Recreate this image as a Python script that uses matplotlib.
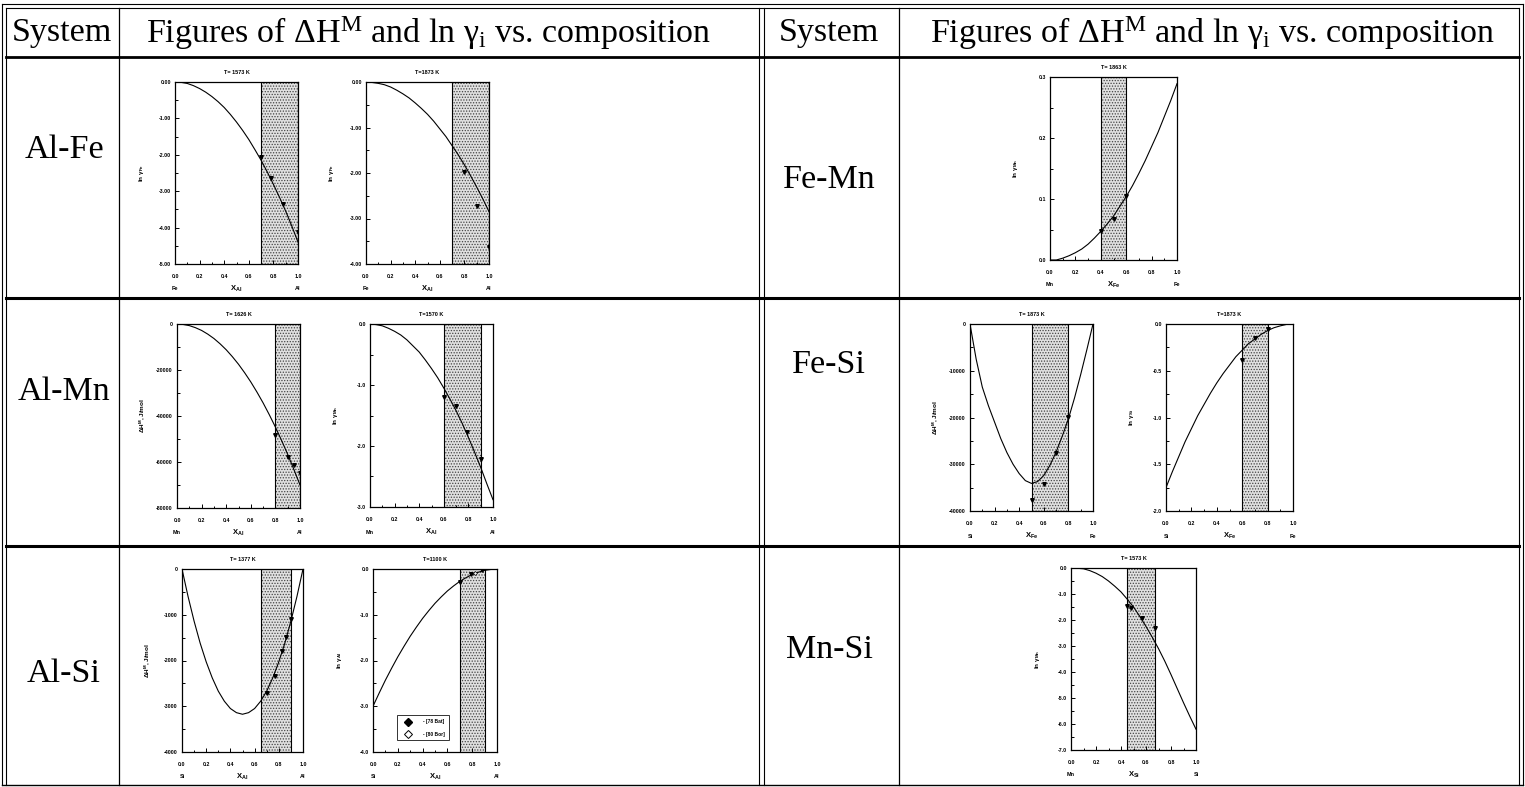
import matplotlib.pyplot as plt
from matplotlib.lines import Line2D
from matplotlib.ticker import MultipleLocator, FormatStrFormatter

W, H = 1525, 787

plt.rcParams['mathtext.fontset'] = 'custom'
plt.rcParams['mathtext.rm'] = 'Liberation Serif'
plt.rcParams['mathtext.it'] = 'Liberation Serif:italic'
plt.rcParams['mathtext.sf'] = 'Liberation Sans:bold'
plt.rcParams['hatch.linewidth'] = 0.6

# table text
header_system = "System"
header_figs = r"Figures of $\Delta$H$^{\mathrm{M}}$ and ln $\mathrm{\gamma}_{\mathrm{i}}$ vs. composition"
systems_left = ["Al-Fe", "Al-Mn", "Al-Si"]
systems_right = ["Fe-Mn", "Fe-Si", "Mn-Si"]

# composition grid for the model curves (read every 0.05)
x_grid = [0.0, 0.05, 0.1, 0.15, 0.2, 0.25, 0.3, 0.35, 0.4, 0.45, 0.5,
          0.55, 0.6, 0.65, 0.7, 0.75, 0.8, 0.85, 0.9, 0.95, 1.0]

# Al-Fe, T=1573 K, ln gamma_Fe
alfe1573_curve = [0, -0.01, -0.04, -0.10, -0.18, -0.28, -0.40, -0.54, -0.70, -0.89, -1.10,
                  -1.33, -1.58, -1.86, -2.15, -2.47, -2.81, -3.17, -3.55, -3.96, -4.40]
alfe1573_px = [0.70, 0.78, 0.88, 1.00]
alfe1573_py = [-2.06, -2.64, -3.35, -4.12]

# Al-Fe, T=1873 K, ln gamma_Fe
alfe1873_curve = [0, -0.01, -0.03, -0.06, -0.11, -0.18, -0.26, -0.35, -0.46, -0.58, -0.71,
                  -0.86, -1.03, -1.20, -1.40, -1.60, -1.82, -2.06, -2.31, -2.57, -2.85]
alfe1873_px = [0.80, 0.90, 1.00]
alfe1873_py = [-1.98, -2.72, -3.62]

# Al-Mn, T=1626 K, dH^M
almn1626_curve = [0, -200, -700, -1600, -2800, -4400, -6300, -8600, -11200, -14200, -17500,
                  -21200, -25200, -29600, -34300, -39400, -44800, -50600, -56700, -63200, -70000]
almn1626_px = [0.80, 0.90, 0.95, 1.00]
almn1626_py = [-48400, -58000, -61400, -64800]

# Al-Mn, T=1570 K, ln gamma_Mn
almn1570_curve = [0, -0.01, -0.03, -0.07, -0.12, -0.18, -0.26, -0.36, -0.46, -0.59, -0.73,
                  -0.88, -1.05, -1.23, -1.42, -1.63, -1.86, -2.10, -2.35, -2.62, -2.88]
almn1570_px = [0.60, 0.70, 0.79, 0.90]
almn1570_py = [-1.19, -1.35, -1.77, -2.22]

# Al-Si, T=1377 K, dH^M
alsi1377_curve = [0, -600, -1140, -1620, -2030, -2380, -2670, -2890, -3050, -3140, -3175,
                  -3140, -3050, -2890, -2670, -2380, -2030, -1620, -1140, -600, 0]
alsi1377_px = [0.70, 0.77, 0.83, 0.86, 0.90]
alsi1377_py = [-2710, -2330, -1790, -1490, -1090]

# Al-Si, T=1100 K, ln gamma_Al
alsi1100_curve = [-3.0, -2.71, -2.43, -2.17, -1.92, -1.69, -1.47, -1.27, -1.08, -0.91, -0.75,
                  -0.61, -0.48, -0.37, -0.27, -0.19, -0.12, -0.07, -0.03, -0.01, 0]
alsi1100_px = [0.70, 0.79, 0.88]
alsi1100_py = [-0.29, -0.12, -0.03]
alsi1100_open_x = [0.82]
alsi1100_open_y = [-0.09]
alsi1100_legend = ["- [78 Bat]", "- [80 Bor]"]

# Fe-Mn, T=1863 K, ln gamma_Mn
femn1863_curve = [0, 0.0, 0.003, 0.007, 0.012, 0.018, 0.026, 0.036, 0.047, 0.059, 0.072,
                  0.088, 0.104, 0.122, 0.142, 0.163, 0.186, 0.209, 0.235, 0.261, 0.289]
femn1863_px = [0.40, 0.50, 0.60]
femn1863_py = [0.048, 0.068, 0.105]

# Fe-Si, T=1873 K, dH^M
fesi1873h_curve = [0, -7500, -13500, -17500, -21000, -24500, -27500, -30000, -32000, -33500, -34100,
                   -33700, -32400, -30200, -27400, -24000, -20300, -15800, -10800, -5500, 0]
fesi1873h_px = [0.50, 0.60, 0.70, 0.80]
fesi1873h_py = [-37700, -34300, -27500, -19800]

# Fe-Si, T=1873 K, ln gamma_Si
fesi1873g_curve = [-1.75, -1.58, -1.42, -1.26, -1.12, -0.98, -0.86, -0.74, -0.63, -0.53, -0.44,
                   -0.35, -0.28, -0.21, -0.16, -0.11, -0.07, -0.04, -0.02, -0.004, 0]
fesi1873g_px = [0.60, 0.70, 0.80]
fesi1873g_py = [-0.38, -0.15, -0.05]

# Mn-Si, T=1573 K, ln gamma_Mn
mnsi1573_curve = [0, -0.01, -0.03, -0.10, -0.20, -0.33, -0.50, -0.70, -0.92, -1.20, -1.50,
                  -1.86, -2.25, -2.66, -3.10, -3.58, -4.10, -4.64, -5.18, -5.70, -6.20]
mnsi1573_px = [0.45, 0.48, 0.57, 0.67]
mnsi1573_py = [-1.46, -1.53, -1.94, -2.32]

lng = r"ln $\mathsf{\gamma_{%s}}$"
dhm = r"$\mathsf{\Delta H^{M}}$, J/mol"

panels = [
    # rect px (l, t, r, b), title, curve, points, shade, ylim, major, minor, fmt, ylabel, elements
    ((175, 82, 298, 264), "T= 1573 K", alfe1573_curve, alfe1573_px, alfe1573_py, (0.7, 1.0),
     (-5, 0), 1, 0.5, '%.2f', lng % 'Fe', ("Fe", "Al", "Al")),
    ((366, 82, 489, 264), "T=1873 K", alfe1873_curve, alfe1873_px, alfe1873_py, (0.7, 1.0),
     (-4, 0), 1, 0.5, '%.2f', lng % 'Fe', ("Fe", "Al", "Al")),
    ((177, 324, 300, 508), "T= 1626 K", almn1626_curve, almn1626_px, almn1626_py, (0.8, 1.0),
     (-80000, 0), 20000, 10000, '%d', dhm, ("Mn", "Al", "Al")),
    ((370, 324, 493, 507), "T=1570 K", almn1570_curve, almn1570_px, almn1570_py, (0.6, 0.9),
     (-3, 0), 1, 0.5, '%.1f', lng % 'Mn', ("Mn", "Al", "Al")),
    ((182, 569, 303, 752), "T= 1377 K", alsi1377_curve, alsi1377_px, alsi1377_py, (0.65, 0.9),
     (-4000, 0), 1000, 500, '%d', dhm, ("Si", "Al", "Al")),
    ((373, 569, 497, 752), "T=1100 K", alsi1100_curve, alsi1100_px, alsi1100_py, (0.7, 0.9),
     (-4, 0), 1, 0.5, '%.1f', lng % 'Al', ("Si", "Al", "Al")),
    ((1050, 77, 1177, 260), "T= 1863 K", femn1863_curve, femn1863_px, femn1863_py, (0.4, 0.6),
     (0, 0.3), 0.1, 0.05, '%.1f', lng % 'Mn', ("Mn", "Fe", "Fe")),
    ((970, 324, 1093, 511), "T= 1873 K", fesi1873h_curve, fesi1873h_px, fesi1873h_py, (0.5, 0.8),
     (-40000, 0), 10000, 5000, '%d', dhm, ("Si", "Fe", "Fe")),
    ((1166, 324, 1293, 511), "T=1873 K", fesi1873g_curve, fesi1873g_px, fesi1873g_py, (0.6, 0.8),
     (-2, 0), 0.5, 0.25, '%.1f', lng % 'Si', ("Si", "Fe", "Fe")),
    ((1071, 568, 1196, 750), "T= 1573 K", mnsi1573_curve, mnsi1573_px, mnsi1573_py, (0.45, 0.67),
     (-7, 0), 1, 0.5, '%.1f', lng % 'Mn', ("Mn", "Si", "Si")),
]

fig = plt.figure(figsize=(W / 100, H / 100), dpi=100)
fig.patch.set_facecolor('white')


def hline(y, x0, x1, lw):
    fig.add_artist(Line2D([x0 / W, x1 / W], [1 - y / H, 1 - y / H], color='black', lw=lw))


def vline(x, y0, y1, lw):
    fig.add_artist(Line2D([x / W, x / W], [1 - y0 / H, 1 - y1 / H], color='black', lw=lw))


# table frame
hline(4, 2, 1523, 0.8)
hline(8, 6, 1519, 0.8)
hline(57, 6, 1519, 2.0)
hline(298, 6, 1519, 2.2)
hline(546, 6, 1519, 2.2)
hline(785, 2, 1523, 1.0)
vline(2, 4, 785, 0.8)
vline(6, 8, 785, 0.8)
vline(1519, 8, 785, 0.8)
vline(1523, 4, 785, 0.8)
vline(759, 8, 785, 0.8)
vline(764, 8, 785, 0.8)
vline(119, 8, 785, 0.9)
vline(899, 8, 785, 0.9)

serif = dict(family='Liberation Serif', fontsize=24.5, ha='center', va='center')
fig.text(62 / W, 1 - 33 / H, header_system, **serif)
fig.text(428 / W, 1 - 33 / H, header_figs, **serif)
fig.text(829 / W, 1 - 33 / H, header_system, **serif)
fig.text(1212 / W, 1 - 33 / H, header_figs, **serif)

left_rows_y = [150, 392, 674]
right_rows_y = [180, 365, 650]
for name, y in zip(systems_left, left_rows_y):
    fig.text(64 / W, 1 - y / H, name, **serif)
for name, y in zip(systems_right, right_rows_y):
    fig.text(829 / W, 1 - y / H, name, **serif)

small = dict(family='Liberation Sans', fontweight='bold')

for i, (r, title, curve, px, py, shade, ylim, ymaj, ymin, fmt, ylab, elems) in enumerate(panels):
    l, t, rr, b = r
    ax = fig.add_axes([l / W, 1 - b / H, (rr - l) / W, (b - t) / H])
    ax.axvspan(shade[0], shade[1], facecolor='#e0e0e0', edgecolor='#444444',
               hatch='......', lw=0, zorder=0)
    ax.axvline(shade[0], color='black', lw=0.8)
    ax.axvline(shade[1], color='black', lw=0.8)
    ax.plot(x_grid, curve, color='black', lw=0.8)
    ax.plot(px, py, ls='none', marker='v', ms=2.6, color='black')
    if i == 5:
        ax.plot(alsi1100_open_x, alsi1100_open_y, ls='none', marker='D', ms=2,
                mfc='white', mec='black', mew=0.5)
        h1 = Line2D([], [], ls='none', marker='D', ms=4, color='black')
        h2 = Line2D([], [], ls='none', marker='D', ms=4, mfc='white', mec='black', mew=0.7)
        leg = ax.legend([h1, h2], alsi1100_legend, loc='lower center',
                        bbox_to_anchor=(0.4, 0.05), prop=dict(family='Liberation Sans',
                                                              weight='bold', size=3.5),
                        frameon=True, fancybox=False, edgecolor='black',
                        handlelength=3.0, handletextpad=1.6, borderpad=0.8, labelspacing=1.5)
        leg.get_frame().set_linewidth(0.7)
    ax.set_xlim(0, 1)
    ax.set_ylim(*ylim)
    ax.xaxis.set_major_locator(MultipleLocator(0.2))
    ax.xaxis.set_minor_locator(MultipleLocator(0.1))
    ax.xaxis.set_major_formatter(FormatStrFormatter('%.1f'))
    ax.yaxis.set_major_locator(MultipleLocator(ymaj))
    ax.yaxis.set_minor_locator(MultipleLocator(ymin))
    ax.yaxis.set_major_formatter(FormatStrFormatter(fmt))
    ax.tick_params(which='both', direction='in', width=0.7, labelsize=3.8, top=False, right=False)
    ax.tick_params(which='major', length=3)
    ax.tick_params(which='minor', length=1.8)
    ax.tick_params(axis='x', pad=7)
    ax.tick_params(axis='y', pad=3)
    for lab in ax.get_xticklabels() + ax.get_yticklabels():
        lab.set_fontweight('bold')
        lab.set_family('Liberation Sans')
    for sp in ax.spines.values():
        sp.set_linewidth(0.9)
    ax.set_title(title, fontsize=4.0, pad=6, **small)
    ax.annotate(elems[0], xy=(0, 0), xycoords='axes fraction', xytext=(0, -25),
                textcoords='offset pixels', ha='center', va='center', fontsize=4.0, **small)
    ax.annotate(elems[2], xy=(1, 0), xycoords='axes fraction', xytext=(0, -25),
                textcoords='offset pixels', ha='center', va='center', fontsize=4.0, **small)
    ax.annotate(r"$\mathsf{X_{%s}}$" % elems[1], xy=(0.5, 0), xycoords='axes fraction',
                xytext=(0, -25), textcoords='offset pixels', ha='center', va='center',
                fontsize=5.5, **small)
    ax.annotate(ylab, xy=(0, 0.5), xycoords='axes fraction', xytext=(-34, 0),
                textcoords='offset pixels', ha='center', va='center', rotation=90,
                fontsize=4.6, **small)

fig.savefig('out.png', dpi=100, facecolor='white')
